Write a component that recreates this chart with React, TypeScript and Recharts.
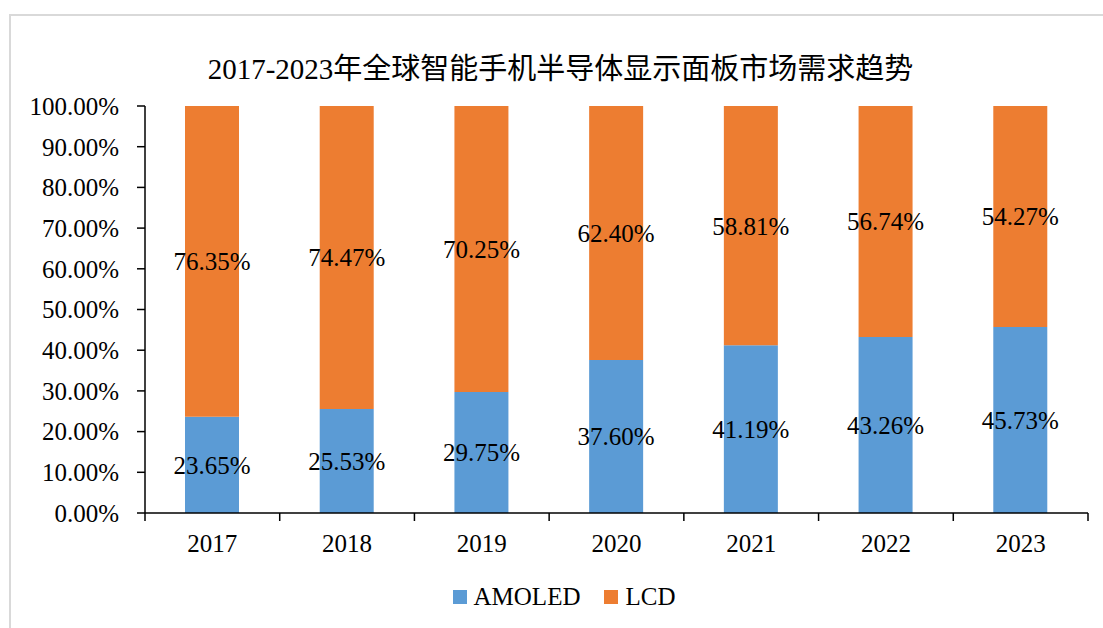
import React from "react";
import { BarChart, Bar, XAxis, YAxis, LabelList } from "recharts";

// 2017-2023 全球智能手机半导体显示面板市场需求趋势
const years = ["2017", "2018", "2019", "2020", "2021", "2022", "2023"];
const amoled = [23.65, 25.53, 29.75, 37.6, 41.19, 43.26, 45.73];
const lcd = [76.35, 74.47, 70.25, 62.4, 58.81, 56.74, 54.27];
const yTicks = [0, 10, 20, 30, 40, 50, 60, 70, 80, 90, 100];

const data = years.map((y, i) => ({ year: y, AMOLED: amoled[i], LCD: lcd[i] }));

const BLUE = "#5b9bd5";
const ORANGE = "#ed7d31";
const FONT = "'Liberation Serif', 'Times New Roman', 'Noto Sans CJK SC', serif";

const W = 1103;
const H = 628;
const X_H = 45;
const MARGIN = { top: 106, right: 15, left: 10, bottom: 115 - X_H };
const Y_W = 135;
const BAND = (W - MARGIN.left - MARGIN.right - Y_W) / years.length;
const TICK_GAP = 21;

const pct = (v: any) => `${Number(v).toFixed(2)}%`;

const XTick = (props: any) => {
  const { x, y, payload, index } = props;
  const axisY = y - TICK_GAP;
  return (
    <g>
      <line x1={x - BAND / 2} x2={x - BAND / 2} y1={axisY} y2={axisY + 8} stroke="#000" strokeWidth={1.5} />
      {index === years.length - 1 && (
        <line x1={x + BAND / 2} x2={x + BAND / 2} y1={axisY} y2={axisY + 8} stroke="#000" strokeWidth={1.5} />
      )}
      <text x={x} y={y} dy="0.71em" textAnchor="middle" fontSize={25} style={{ fontFamily: FONT }} fill="#000">
        {payload.value}
      </text>
    </g>
  );
};

const YTick = (props: any) => {
  const { x, y, payload } = props;
  return (
    <text x={x} y={y} dy="0.355em" textAnchor="end" fontSize={25} style={{ fontFamily: FONT }} fill="#000">
      {pct(payload.value)}
    </text>
  );
};

const legendItems = [
  { name: "AMOLED", color: BLUE },
  { name: "LCD", color: ORANGE },
];

export default function App() {
  return (
    <div style={{ position: "absolute", left: 0, top: 0, width: W, height: H, background: "#fff", overflow: "hidden" }}>
      <div
        style={{
          position: "absolute",
          left: 9,
          top: 14,
          width: W + 20,
          height: H + 20,
          borderTop: "2px solid #d9d9d9",
          borderLeft: "2px solid #d9d9d9",
        }}
      />
      <div
        style={{
          position: "absolute",
          left: 0,
          top: 45,
          width: 1121,
          textAlign: "center",
          fontFamily: FONT,
          fontSize: 29,
          color: "#000",
          whiteSpace: "nowrap",
        }}
      >
        2017-2023年全球智能手机半导体显示面板市场需求趋势
      </div>
      <BarChart width={W} height={H} data={data} margin={MARGIN} style={{ position: "absolute", left: 0, top: 0 }}>
        <XAxis
          dataKey="year"
          axisLine={{ stroke: "#000", strokeWidth: 1.5 }}
          tickLine={false}
          tickSize={0}
          tickMargin={TICK_GAP}
          tick={<XTick />}
          height={X_H}
          interval={0}
        />
        <YAxis
          width={Y_W}
          domain={[0, 100]}
          ticks={yTicks}
          axisLine={{ stroke: "#000", strokeWidth: 1.5 }}
          tickLine={{ stroke: "#000", strokeWidth: 1.5 }}
          tickSize={8}
          tickMargin={18}
          tick={<YTick />}
          interval={0}
        />
        <Bar dataKey="AMOLED" stackId="a" fill={BLUE} barSize={54} isAnimationActive={false}>
          <LabelList
            dataKey="AMOLED"
            position="center"
            formatter={pct}
            fill="#000"
            fontSize={25}
            style={{ fontFamily: FONT }}
          />
        </Bar>
        <Bar dataKey="LCD" stackId="a" fill={ORANGE} barSize={54} isAnimationActive={false}>
          <LabelList
            dataKey="LCD"
            position="center"
            formatter={pct}
            fill="#000"
            fontSize={25}
            style={{ fontFamily: FONT }}
          />
        </Bar>
      </BarChart>
      <div
        style={{
          position: "absolute",
          left: 0,
          top: 583,
          width: W,
          display: "flex",
          justifyContent: "center",
          alignItems: "center",
          paddingLeft: 25,
          boxSizing: "border-box",
          fontFamily: FONT,
          fontSize: 25,
          color: "#000",
        }}
      >
        {legendItems.map((it) => (
          <div key={it.name} style={{ display: "flex", alignItems: "center", margin: "0 12px" }}>
            <span style={{ width: 14, height: 14, background: it.color, display: "inline-block", marginRight: 7 }} />
            <span>{it.name}</span>
          </div>
        ))}
      </div>
    </div>
  );
}
